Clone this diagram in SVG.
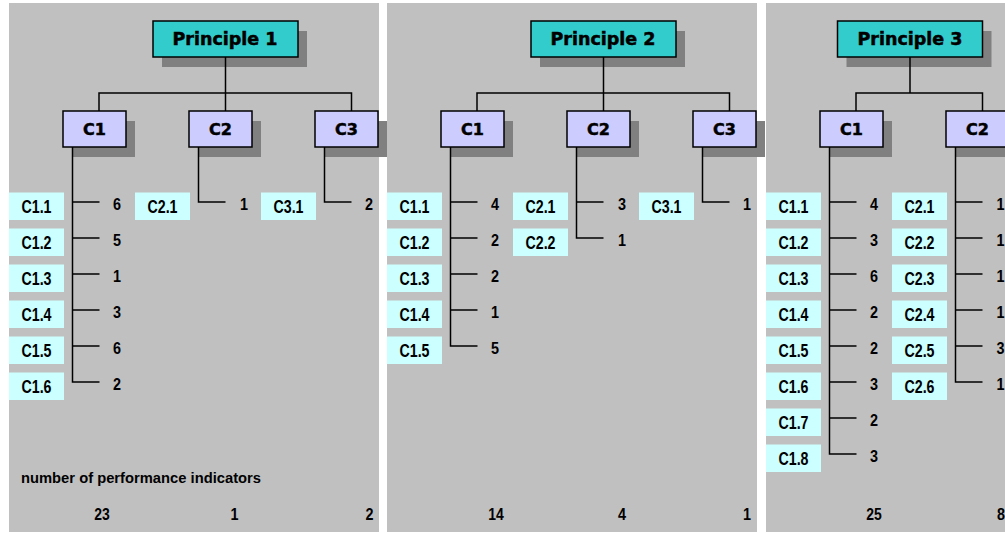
<svg xmlns="http://www.w3.org/2000/svg" width="1005" height="533" viewBox="0 0 1005 533">
  <style>
    .panel { fill: #c0c0c0; }
    .shadow { fill: #808080; }
    .principle { fill: #33cccc; stroke: #000; stroke-width: 1.5; }
    .crit { fill: #ccccff; stroke: #000; stroke-width: 1.5; }
    .leaf { fill: #ccffff; }
    .ptext { font-family: "DejaVu Sans", "Liberation Sans", sans-serif; font-weight: bold; font-size: 17.5px; fill: #000; stroke: #000; stroke-width: 0.5; text-anchor: middle; }
    .ctext { font-family: "DejaVu Sans", "Liberation Sans", sans-serif; font-weight: bold; font-size: 16px; fill: #000; stroke: #000; stroke-width: 0.5; text-anchor: middle; }
    .ltext { font-family: "Liberation Sans", Arial, sans-serif; font-weight: bold; font-size: 18px; fill: #000; text-anchor: middle; }
    .num { font-family: "Liberation Sans", Arial, sans-serif; font-weight: bold; font-size: 16px; fill: #000; }
    .tot { font-family: "Liberation Sans", Arial, sans-serif; font-weight: bold; font-size: 16px; fill: #000; text-anchor: middle; }
    .cap { font-family: "Liberation Sans", Arial, sans-serif; font-weight: bold; font-size: 15px; fill: #000; }
    .wire { fill: none; stroke: #000; stroke-width: 1.5; }
  </style>

  <!-- panel backgrounds -->
  <g id="panels">
    <rect class="panel" x="9" y="3" width="370" height="529"/>
    <rect class="panel" x="387" y="3" width="370" height="529"/>
    <rect class="panel" x="766" y="3" width="240" height="529"/>
  </g>

  <!-- drop shadows -->
  <g id="shadows">
    <rect class="shadow" x="162" y="31" width="145" height="36"/>
    <rect class="shadow" x="72" y="121" width="63" height="36"/>
    <rect class="shadow" x="198" y="121" width="63" height="36"/>
    <rect class="shadow" x="324" y="121" width="63" height="36"/>
    <rect class="shadow" x="540" y="31" width="145" height="36"/>
    <rect class="shadow" x="450" y="121" width="63" height="36"/>
    <rect class="shadow" x="576" y="121" width="63" height="36"/>
    <rect class="shadow" x="702" y="121" width="63" height="36"/>
    <rect class="shadow" x="846.5" y="31" width="145" height="36"/>
    <rect class="shadow" x="829" y="121" width="63" height="36"/>
    <rect class="shadow" x="955" y="121" width="63" height="36"/>
  </g>

  <!-- connectors -->
  <g id="connectors" class="wire">
    <!-- principle 1 -->
    <path d="M225.5 57V111M99 111V93H351.5V111"/>
    <path d="M72.5 147V382H99.5M72.5 202H99.5M72.5 238H99.5M72.5 274H99.5M72.5 310H99.5M72.5 346H99.5"/>
    <path d="M198.5 147V202H225.5"/>
    <path d="M324.5 147V202H351.5"/>
    <!-- principle 2 -->
    <path d="M603.5 57V111M477 111V93H729.5V111"/>
    <path d="M450.5 147V346H477.5M450.5 202H477.5M450.5 238H477.5M450.5 274H477.5M450.5 310H477.5"/>
    <path d="M576.5 147V238H603.5M576.5 202H603.5"/>
    <path d="M702.5 147V202H729.5"/>
    <!-- principle 3 -->
    <path d="M910 57V93M856 111V93H982.5V111"/>
    <path d="M829.5 147V454H856.5M829.5 202H856.5M829.5 238H856.5M829.5 274H856.5M829.5 310H856.5M829.5 346H856.5M829.5 382H856.5M829.5 418H856.5"/>
    <path d="M955.5 147V382H982.5M955.5 202H982.5M955.5 238H982.5M955.5 274H982.5M955.5 310H982.5M955.5 346H982.5"/>
  </g>

  <!-- ===== Principle 1 ===== -->
  <g id="p1">
    <rect class="principle" x="153" y="21" width="145" height="36"/>
    <text class="ptext" x="225" y="44.5">Principle 1</text>
  </g>
  <g id="p1-c1"><rect class="crit" x="63" y="111" width="63" height="36"/><text class="ctext" x="94.5" y="135">C1</text></g>
  <g id="p1-c2"><rect class="crit" x="189" y="111" width="63" height="36"/><text class="ctext" x="220.5" y="135">C2</text></g>
  <g id="p1-c3"><rect class="crit" x="315" y="111" width="63" height="36"/><text class="ctext" x="346.5" y="135">C3</text></g>

  <g id="p1-c1-leaves">
    <rect class="leaf" x="9" y="192.5" width="55" height="27.5"/><text class="ltext" x="36.5" y="213" textLength="30" lengthAdjust="spacingAndGlyphs">C1.1</text><text class="num" x="113" y="209.5" textLength="8" lengthAdjust="spacingAndGlyphs">6</text>
    <rect class="leaf" x="9" y="228.5" width="55" height="27.5"/><text class="ltext" x="36.5" y="249" textLength="30" lengthAdjust="spacingAndGlyphs">C1.2</text><text class="num" x="113" y="245.5" textLength="8" lengthAdjust="spacingAndGlyphs">5</text>
    <rect class="leaf" x="9" y="264.5" width="55" height="27.5"/><text class="ltext" x="36.5" y="285" textLength="30" lengthAdjust="spacingAndGlyphs">C1.3</text><text class="num" x="113" y="281.5" textLength="8" lengthAdjust="spacingAndGlyphs">1</text>
    <rect class="leaf" x="9" y="300.5" width="55" height="27.5"/><text class="ltext" x="36.5" y="321" textLength="30" lengthAdjust="spacingAndGlyphs">C1.4</text><text class="num" x="113" y="317.5" textLength="8" lengthAdjust="spacingAndGlyphs">3</text>
    <rect class="leaf" x="9" y="336.5" width="55" height="27.5"/><text class="ltext" x="36.5" y="357" textLength="30" lengthAdjust="spacingAndGlyphs">C1.5</text><text class="num" x="113" y="353.5" textLength="8" lengthAdjust="spacingAndGlyphs">6</text>
    <rect class="leaf" x="9" y="372.5" width="55" height="27.5"/><text class="ltext" x="36.5" y="393" textLength="30" lengthAdjust="spacingAndGlyphs">C1.6</text><text class="num" x="113" y="389.5" textLength="8" lengthAdjust="spacingAndGlyphs">2</text>
  </g>
  <g id="p1-c2-leaves">
    <rect class="leaf" x="135" y="192.5" width="55" height="27.5"/><text class="ltext" x="162.5" y="213" textLength="30" lengthAdjust="spacingAndGlyphs">C2.1</text><text class="num" x="240" y="209.5" textLength="8" lengthAdjust="spacingAndGlyphs">1</text>
  </g>
  <g id="p1-c3-leaves">
    <rect class="leaf" x="261" y="192.5" width="55" height="27.5"/><text class="ltext" x="288.5" y="213" textLength="30" lengthAdjust="spacingAndGlyphs">C3.1</text><text class="num" x="365" y="209.5" textLength="8" lengthAdjust="spacingAndGlyphs">2</text>
  </g>
  <g id="p1-totals">
    <text class="cap" x="21" y="483" textLength="240" lengthAdjust="spacingAndGlyphs">number of performance indicators</text>
    <text class="tot" x="102" y="519.5" textLength="15.5" lengthAdjust="spacingAndGlyphs">23</text>
    <text class="tot" x="234.5" y="519.5" textLength="8" lengthAdjust="spacingAndGlyphs">1</text>
    <text class="tot" x="369.5" y="519.5" textLength="8" lengthAdjust="spacingAndGlyphs">2</text>
  </g>

  <!-- ===== Principle 2 ===== -->
  <g id="p2">
    <rect class="principle" x="531" y="21" width="145" height="36"/>
    <text class="ptext" x="603" y="44.5">Principle 2</text>
  </g>
  <g id="p2-c1"><rect class="crit" x="441" y="111" width="63" height="36"/><text class="ctext" x="472.5" y="135">C1</text></g>
  <g id="p2-c2"><rect class="crit" x="567" y="111" width="63" height="36"/><text class="ctext" x="598.5" y="135">C2</text></g>
  <g id="p2-c3"><rect class="crit" x="693" y="111" width="63" height="36"/><text class="ctext" x="724.5" y="135">C3</text></g>

  <g id="p2-c1-leaves">
    <rect class="leaf" x="387" y="192.5" width="55" height="27.5"/><text class="ltext" x="414.5" y="213" textLength="30" lengthAdjust="spacingAndGlyphs">C1.1</text><text class="num" x="491" y="209.5" textLength="8" lengthAdjust="spacingAndGlyphs">4</text>
    <rect class="leaf" x="387" y="228.5" width="55" height="27.5"/><text class="ltext" x="414.5" y="249" textLength="30" lengthAdjust="spacingAndGlyphs">C1.2</text><text class="num" x="491" y="245.5" textLength="8" lengthAdjust="spacingAndGlyphs">2</text>
    <rect class="leaf" x="387" y="264.5" width="55" height="27.5"/><text class="ltext" x="414.5" y="285" textLength="30" lengthAdjust="spacingAndGlyphs">C1.3</text><text class="num" x="491" y="281.5" textLength="8" lengthAdjust="spacingAndGlyphs">2</text>
    <rect class="leaf" x="387" y="300.5" width="55" height="27.5"/><text class="ltext" x="414.5" y="321" textLength="30" lengthAdjust="spacingAndGlyphs">C1.4</text><text class="num" x="491" y="317.5" textLength="8" lengthAdjust="spacingAndGlyphs">1</text>
    <rect class="leaf" x="387" y="336.5" width="55" height="27.5"/><text class="ltext" x="414.5" y="357" textLength="30" lengthAdjust="spacingAndGlyphs">C1.5</text><text class="num" x="491" y="353.5" textLength="8" lengthAdjust="spacingAndGlyphs">5</text>
  </g>
  <g id="p2-c2-leaves">
    <rect class="leaf" x="513" y="192.5" width="55" height="27.5"/><text class="ltext" x="540.5" y="213" textLength="30" lengthAdjust="spacingAndGlyphs">C2.1</text><text class="num" x="618" y="209.5" textLength="8" lengthAdjust="spacingAndGlyphs">3</text>
    <rect class="leaf" x="513" y="228.5" width="55" height="27.5"/><text class="ltext" x="540.5" y="249" textLength="30" lengthAdjust="spacingAndGlyphs">C2.2</text><text class="num" x="618" y="245.5" textLength="8" lengthAdjust="spacingAndGlyphs">1</text>
  </g>
  <g id="p2-c3-leaves">
    <rect class="leaf" x="639" y="192.5" width="55" height="27.5"/><text class="ltext" x="666.5" y="213" textLength="30" lengthAdjust="spacingAndGlyphs">C3.1</text><text class="num" x="743" y="209.5" textLength="8" lengthAdjust="spacingAndGlyphs">1</text>
  </g>
  <g id="p2-totals">
    <text class="tot" x="496" y="519.5" textLength="15.5" lengthAdjust="spacingAndGlyphs">14</text>
    <text class="tot" x="622" y="519.5" textLength="8" lengthAdjust="spacingAndGlyphs">4</text>
    <text class="tot" x="747" y="519.5" textLength="8" lengthAdjust="spacingAndGlyphs">1</text>
  </g>

  <!-- ===== Principle 3 ===== -->
  <g id="p3">
    <rect class="principle" x="837.5" y="21" width="145" height="36"/>
    <text class="ptext" x="910" y="44.5">Principle 3</text>
  </g>
  <g id="p3-c1"><rect class="crit" x="820" y="111" width="63" height="36"/><text class="ctext" x="851.5" y="135">C1</text></g>
  <g id="p3-c2"><rect class="crit" x="946" y="111" width="63" height="36"/><text class="ctext" x="977.5" y="135">C2</text></g>

  <g id="p3-c1-leaves">
    <rect class="leaf" x="766" y="192.5" width="55" height="27.5"/><text class="ltext" x="793.5" y="213" textLength="30" lengthAdjust="spacingAndGlyphs">C1.1</text><text class="num" x="870" y="209.5" textLength="8" lengthAdjust="spacingAndGlyphs">4</text>
    <rect class="leaf" x="766" y="228.5" width="55" height="27.5"/><text class="ltext" x="793.5" y="249" textLength="30" lengthAdjust="spacingAndGlyphs">C1.2</text><text class="num" x="870" y="245.5" textLength="8" lengthAdjust="spacingAndGlyphs">3</text>
    <rect class="leaf" x="766" y="264.5" width="55" height="27.5"/><text class="ltext" x="793.5" y="285" textLength="30" lengthAdjust="spacingAndGlyphs">C1.3</text><text class="num" x="870" y="281.5" textLength="8" lengthAdjust="spacingAndGlyphs">6</text>
    <rect class="leaf" x="766" y="300.5" width="55" height="27.5"/><text class="ltext" x="793.5" y="321" textLength="30" lengthAdjust="spacingAndGlyphs">C1.4</text><text class="num" x="870" y="317.5" textLength="8" lengthAdjust="spacingAndGlyphs">2</text>
    <rect class="leaf" x="766" y="336.5" width="55" height="27.5"/><text class="ltext" x="793.5" y="357" textLength="30" lengthAdjust="spacingAndGlyphs">C1.5</text><text class="num" x="870" y="353.5" textLength="8" lengthAdjust="spacingAndGlyphs">2</text>
    <rect class="leaf" x="766" y="372.5" width="55" height="27.5"/><text class="ltext" x="793.5" y="393" textLength="30" lengthAdjust="spacingAndGlyphs">C1.6</text><text class="num" x="870" y="389.5" textLength="8" lengthAdjust="spacingAndGlyphs">3</text>
    <rect class="leaf" x="766" y="408.5" width="55" height="27.5"/><text class="ltext" x="793.5" y="429" textLength="30" lengthAdjust="spacingAndGlyphs">C1.7</text><text class="num" x="870" y="425.5" textLength="8" lengthAdjust="spacingAndGlyphs">2</text>
    <rect class="leaf" x="766" y="444.5" width="55" height="27.5"/><text class="ltext" x="793.5" y="465" textLength="30" lengthAdjust="spacingAndGlyphs">C1.8</text><text class="num" x="870" y="461.5" textLength="8" lengthAdjust="spacingAndGlyphs">3</text>
  </g>
  <g id="p3-c2-leaves">
    <rect class="leaf" x="892" y="192.5" width="55" height="27.5"/><text class="ltext" x="919.5" y="213" textLength="30" lengthAdjust="spacingAndGlyphs">C2.1</text><text class="num" x="996.5" y="209.5" textLength="8" lengthAdjust="spacingAndGlyphs">1</text>
    <rect class="leaf" x="892" y="228.5" width="55" height="27.5"/><text class="ltext" x="919.5" y="249" textLength="30" lengthAdjust="spacingAndGlyphs">C2.2</text><text class="num" x="996.5" y="245.5" textLength="8" lengthAdjust="spacingAndGlyphs">1</text>
    <rect class="leaf" x="892" y="264.5" width="55" height="27.5"/><text class="ltext" x="919.5" y="285" textLength="30" lengthAdjust="spacingAndGlyphs">C2.3</text><text class="num" x="996.5" y="281.5" textLength="8" lengthAdjust="spacingAndGlyphs">1</text>
    <rect class="leaf" x="892" y="300.5" width="55" height="27.5"/><text class="ltext" x="919.5" y="321" textLength="30" lengthAdjust="spacingAndGlyphs">C2.4</text><text class="num" x="996.5" y="317.5" textLength="8" lengthAdjust="spacingAndGlyphs">1</text>
    <rect class="leaf" x="892" y="336.5" width="55" height="27.5"/><text class="ltext" x="919.5" y="357" textLength="30" lengthAdjust="spacingAndGlyphs">C2.5</text><text class="num" x="996.5" y="353.5" textLength="8" lengthAdjust="spacingAndGlyphs">3</text>
    <rect class="leaf" x="892" y="372.5" width="55" height="27.5"/><text class="ltext" x="919.5" y="393" textLength="30" lengthAdjust="spacingAndGlyphs">C2.6</text><text class="num" x="996.5" y="389.5" textLength="8" lengthAdjust="spacingAndGlyphs">1</text>
  </g>
  <g id="p3-totals">
    <text class="tot" x="874" y="519.5" textLength="15.5" lengthAdjust="spacingAndGlyphs">25</text>
    <text class="tot" x="1001" y="519.5" textLength="8" lengthAdjust="spacingAndGlyphs">8</text>
  </g>
</svg>
